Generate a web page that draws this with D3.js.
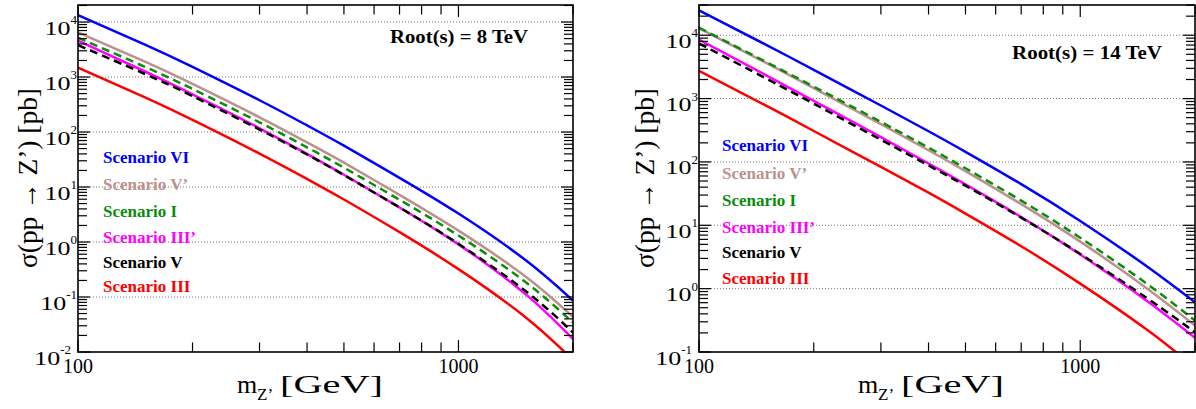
<!DOCTYPE html>
<html><head><meta charset="utf-8">
<script src="https://cdn.jsdelivr.net/npm/d3@7"></script>
<style>body{margin:0;background:#fff} svg{display:block}</style>
</head><body>
<svg id="c" width="1196" height="409"></svg>
<script>
// ---------------- data ----------------
const masses = [100, 150, 200, 300, 400, 500, 700, 1000, 1500, 2000];
const scenarioNames = ["Scenario VI", "Scenario V’", "Scenario I", "Scenario III’", "Scenario V", "Scenario III"];
const xTickLabels = [100, 1000];
const energyLabels = ["Root(s) = 8 TeV", "Root(s) = 14 TeV"];

// sqrt(s) = 8 TeV, sigma in pb
const s8_VI   = [13400, 3890, 1530, 378, 132, 56.5, 14.7, 3.29, 0.470, 0.0861];
const s8_Vp   = [6460, 1905, 748, 185, 64.7, 27.7, 7.21, 1.61, 0.236, 0.0432];
const s8_I    = [5190, 1530, 608, 150, 52.6, 22.5, 5.86, 1.31, 0.187, 0.0343];
const s8_IIIp = [4570, 1260, 483, 117, 39.9, 16.7, 4.25, 0.906, 0.113, 0.0172];
const s8_V    = [3800, 1135, 451, 111, 39.0, 16.5, 4.25, 0.927, 0.129, 0.0226];
const s8_III  = [1480, 427, 166, 40.5, 14.0, 5.92, 1.51, 0.321, 0.0429, 0.00716];

// sqrt(s) = 14 TeV, sigma in pb
const s14_VI   = [24800, 7050, 2840, 778, 305, 144.5, 44.6, 11.7, 2.22, 0.608];
const s14_Vp   = [12900, 3660, 1460, 394, 153, 71.6, 21.6, 5.53, 1.00, 0.262];
const s14_I    = [13200, 3780, 1545, 428, 168, 79.4, 24.5, 6.35, 1.18, 0.313];
const s14_IIIp = [8510, 2330, 920, 246, 94.4, 44.2, 13.5, 3.45, 0.632, 0.167];
const s14_V    = [7410, 2080, 830, 224, 88.1, 42.2, 13.2, 3.53, 0.701, 0.205];
const s14_III  = [2740, 773, 308, 83.4, 32.7, 15.3, 4.67, 1.20, 0.222, 0.0568];

// ---------------- styling ----------------
const colors = ["#0000ff", "#bc918d", "#0b8c0b", "#ff00ff", "#000000", "#ff0000"];
const dashes = [null, null, "8,5", null, "8,5", null];
const drawOrder = [0, 1, 2, 3, 4, 5];

const panels = [
  { series: [s8_VI, s8_Vp, s8_I, s8_IIIp, s8_V, s8_III], yDom: [0.01, 2.04e4],
    L: 78, R: 573, T: 5, B: 352, label: energyLabels[0],
    eX: 390, eY: 43, eW: 138, legX: 103, legY: [157, 184, 211, 237, 262, 286],
    yTitleX: 37, xTitleStart: 237 },
  { series: [s14_VI, s14_Vp, s14_I, s14_IIIp, s14_V, s14_III], yDom: [0.1, 3e4],
    L: 699, R: 1195, T: 5, B: 352, label: energyLabels[1],
    eX: 1012, eY: 59, eW: 150, legX: 722, legY: [145, 173, 200, 227, 252, 278],
    yTitleX: 654, xTitleStart: 858 }
];

const svg = d3.select("#c");
const serif = "'Liberation Serif', 'DejaVu Serif', serif";

panels.forEach((p, pi) => {
  const x = d3.scaleLog().domain([100, 2000]).range([p.L, p.R]);
  const y = d3.scaleLog().domain(p.yDom).range([p.B, p.T]);
  const g = svg.append("g");
  const clipId = "clip" + pi;
  svg.append("clipPath").attr("id", clipId).append("rect")
    .attr("x", p.L).attr("y", p.T).attr("width", p.R - p.L).attr("height", p.B - p.T);

  // gridlines at decades
  const lo = Math.round(Math.log10(p.yDom[0])), hi = Math.floor(Math.log10(p.yDom[1]));
  const decades = d3.range(lo, hi + 1);
  g.selectAll(".grid").data(decades.filter(e => e > lo)).join("line")
    .attr("x1", p.L).attr("x2", p.R)
    .attr("y1", e => y(Math.pow(10, e))).attr("y2", e => y(Math.pow(10, e)))
    .attr("stroke", "#777").attr("stroke-width", 1).attr("stroke-dasharray", "1,2");

  // legend text
  g.selectAll(".leg").data(scenarioNames).join("text")
    .attr("x", p.legX).attr("y", (d, i) => p.legY[i] + 6)
    .attr("fill", (d, i) => colors[i])
    .attr("font-family", serif).attr("font-weight", "bold").attr("font-size", 17)
    .text(d => d);

  // curves
  const line = d3.line().x(d => x(d[0])).y(d => y(d[1])).curve(d3.curveNatural);
  const cg = g.append("g").attr("clip-path", `url(#${clipId})`);
  drawOrder.forEach(i => {
    cg.append("path").datum(masses.map((m, k) => [m, p.series[i][k]]))
      .attr("d", line).attr("fill", "none")
      .attr("stroke", colors[i]).attr("stroke-width", 2.5)
      .attr("stroke-dasharray", dashes[i]);
  });

  // y ticks (both sides)
  const yt = [];
  decades.forEach(e => {
    for (let k = 1; k <= 9; k++) {
      const v = k * Math.pow(10, e);
      if (v >= p.yDom[0] * 0.999 && v <= p.yDom[1]) yt.push({ v, major: k === 1 });
    }
  });
  yt.forEach(t => {
    const yy = y(t.v), len = t.major ? 12 : 9;
    g.append("line").attr("x1", p.L).attr("x2", p.L + len).attr("y1", yy).attr("y2", yy)
      .attr("stroke", "#000").attr("stroke-width", 1.2);
    g.append("line").attr("x1", p.R).attr("x2", p.R - len).attr("y1", yy).attr("y2", yy)
      .attr("stroke", "#000").attr("stroke-width", 1.2);
  });
  // x ticks (top & bottom)
  const xt = [];
  [100, 1000].forEach(b => { for (let k = 1; k <= 9; k++) { const v = k * b; if (v <= 2000) xt.push({ v, major: k === 1 }); } });
  xt.forEach(t => {
    const xx = x(t.v), len = t.major ? 12 : 9.5;
    g.append("line").attr("x1", xx).attr("x2", xx).attr("y1", p.B).attr("y2", p.B - len)
      .attr("stroke", "#000").attr("stroke-width", 1.2);
    g.append("line").attr("x1", xx).attr("x2", xx).attr("y1", p.T).attr("y2", p.T + len)
      .attr("stroke", "#000").attr("stroke-width", 1.2);
  });

  // frame
  g.append("rect").attr("x", p.L).attr("y", p.T).attr("width", p.R - p.L).attr("height", p.B - p.T)
    .attr("fill", "none").attr("stroke", "#000").attr("stroke-width", 1.6);

  // y tick labels: "10" + superscript exponent
  decades.forEach((e, i) => {
    const yy = y(Math.pow(10, e));
    const shift = (i === 0) ? 6 : 0;
    const sup = g.append("text").attr("x", p.L - 1 - shift).attr("y", yy + 2)
      .attr("text-anchor", "end").attr("font-family", serif).attr("font-size", 13)
      .text(String(e));
    const w = sup.node().getComputedTextLength();
    g.append("text").attr("x", p.L - 1 - shift - w).attr("y", yy + 12.5)
      .attr("text-anchor", "end").attr("font-family", serif).attr("font-size", 19)
      .attr("textLength", 26).attr("lengthAdjust", "spacingAndGlyphs").text("10");
  });
  // x tick labels
  g.selectAll(".xl").data(xTickLabels).join("text")
    .attr("x", d => x(d)).attr("y", 373).attr("text-anchor", "middle")
    .attr("font-family", serif).attr("font-size", 20).text(d => d);

  // energy label
  g.append("text").attr("x", p.eX).attr("y", p.eY)
    .attr("font-family", serif).attr("font-weight", "bold").attr("font-size", 18)
    .attr("textLength", p.eW).attr("lengthAdjust", "spacingAndGlyphs").text(p.label);

  // y title
  g.append("text").attr("transform", `translate(${p.yTitleX},178) rotate(-90)`)
    .attr("text-anchor", "middle").attr("font-family", serif).attr("font-size", 28)
    .attr("textLength", 180).attr("lengthAdjust", "spacingAndGlyphs")
    .text("σ(pp → Z’) [pb]");

  // x title: m, subscript Z’, [GeV]
  const xs = p.xTitleStart;
  g.append("text").attr("x", xs).attr("y", 393).attr("font-family", serif).attr("font-size", 26).text("m");
  g.append("text").attr("x", xs + 20).attr("y", 400).attr("font-family", serif).attr("font-size", 17).text("Z’");
  g.append("text").attr("x", xs + 43).attr("y", 393).attr("font-family", serif).attr("font-size", 26)
    .attr("textLength", 103).attr("lengthAdjust", "spacingAndGlyphs").text("[GeV]");
});
</script>
</body></html>
